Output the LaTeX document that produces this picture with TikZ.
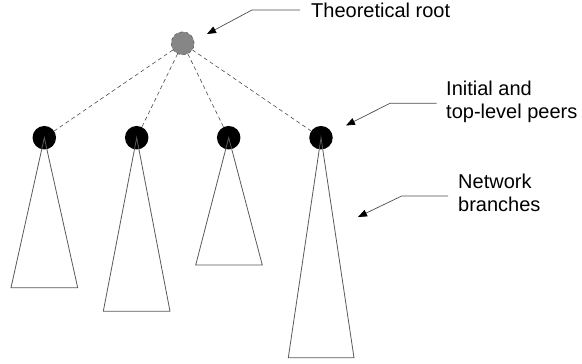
\documentclass[tikz,border=0pt]{standalone}
\usepackage{fontspec}
\setmainfont{Liberation Sans}
\usetikzlibrary{arrows.meta}
\begin{document}
\begin{tikzpicture}[x=1pt,y=-1pt,
  rootnode/.style={circle,minimum size=23pt,inner sep=0pt,fill=gray!95,draw=gray!70!black,dashed,line width=0.6pt},
  peer/.style={circle,minimum size=23.5pt,inner sep=0pt,fill=black},
  link/.style={draw=black!70,dashed,dash pattern=on 4pt off 3pt,line width=0.6pt},
  branch/.style={draw=black!65,line width=0.8pt},
  callout/.style={draw=black!70,line width=0.7pt,-{Triangle[length=9pt,width=7pt,color=black]}},
  lbl/.style={font=\fontsize{20}{23}\selectfont,inner sep=0pt,align=left,anchor=north west}]
\useasboundingbox (0,0) rectangle (582,364);
% nodes
\node[rootnode] (root) at (182.7,43.3) {};
\node[peer] (p1) at (44.3,137.7) {};
\node[peer] (p2) at (136.7,137.7) {};
\node[peer] (p3) at (228.7,137.7) {};
\node[peer] (p4) at (321,137.7) {};
% connectors
\foreach \p in {p1,p2,p3,p4} \draw[link] (root) -- (\p);
% branches
\coordinate (b1l) at (11,287.7);  \coordinate (b1r) at (77.7,287.7);
\coordinate (b2l) at (103.3,311.3); \coordinate (b2r) at (170,311.3);
\coordinate (b3l) at (195.7,265); \coordinate (b3r) at (262.3,265);
\coordinate (b4l) at (288.3,357.7); \coordinate (b4r) at (354,357.7);
\draw[branch] (p1.center) -- (b1l) -- (b1r) -- cycle;
\draw[branch] (p2.center) -- (b2l) -- (b2r) -- cycle;
\draw[branch] (p3.center) -- (b3l) -- (b3r) -- cycle;
\draw[branch] (p4.center) -- (b4l) -- (b4r) -- cycle;
% labels
\node[lbl] (t1) at (311,2.5) {Theoretical root};
\node[lbl] (t2) at (446,80.5) {Initial and\\top-level peers};
\node[lbl] (t3) at (458,173.8) {Network\\branches};
% callout arrows
\coordinate (a1s) at (300,10); \coordinate (a1m) at (252,10); \coordinate (a1e) at (207,34);
\coordinate (a2s) at (436.7,103.3); \coordinate (a2m) at (390,103.3); \coordinate (a2e) at (346,125.5);
\coordinate (a3s) at (448,196); \coordinate (a3m) at (401.7,196); \coordinate (a3e) at (358,217);
\draw[callout] (a1s) -- (a1m) -- (a1e);
\draw[callout] (a2s) -- (a2m) -- (a2e);
\draw[callout] (a3s) -- (a3m) -- (a3e);
\end{tikzpicture}
\end{document}
